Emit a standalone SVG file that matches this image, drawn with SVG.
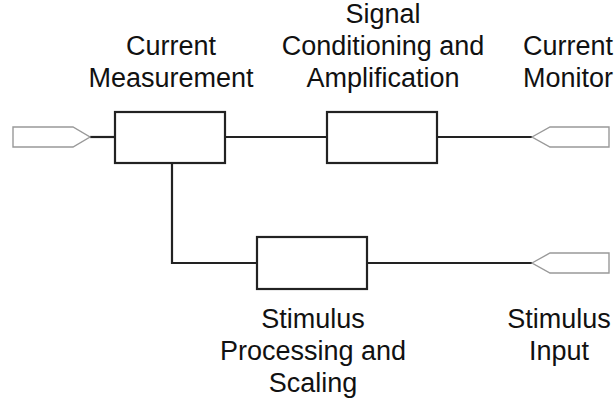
<svg xmlns="http://www.w3.org/2000/svg" width="616" height="404" viewBox="0 0 616 404">
<style>
.box{fill:#fff;stroke:#222;stroke-width:2.2}
.port{fill:#fff;stroke:#999;stroke-width:1.4}
.wire{fill:none;stroke:#222;stroke-width:2.2}
text{font-family:"Liberation Sans",Arial,sans-serif;font-size:27px;fill:#111;text-anchor:middle}
</style>
<rect width="616" height="404" fill="#fff"/>
<g id="connectors">
<line class="wire" x1="90" y1="137" x2="115" y2="137"/>
<line class="wire" x1="225" y1="137" x2="327" y2="137"/>
<line class="wire" x1="437" y1="137" x2="532" y2="137"/>
<polyline class="wire" points="172,163 172,263 257,263"/>
<line class="wire" x1="367" y1="263" x2="532" y2="263"/>
</g>
<g id="port-in">
<polygon class="port" points="13,127 73,127 90,137 73,147 13,147"/>
</g>
<g id="current-measurement">
<rect class="box" x="115" y="112" width="110" height="51"/>
<text x="171" y="55">Current</text>
<text x="171" y="87">Measurement</text>
</g>
<g id="signal-conditioning">
<rect class="box" x="327" y="112" width="110" height="51"/>
<text x="383" y="23">Signal</text>
<text x="383" y="55">Conditioning and</text>
<text x="383" y="87">Amplification</text>
</g>
<g id="current-monitor">
<polygon class="port" points="532,137 550,127 609,127 609,147 550,147"/>
<text x="568" y="55">Current</text>
<text x="568" y="87">Monitor</text>
</g>
<g id="stimulus-processing">
<rect class="box" x="257" y="237" width="110" height="52"/>
<text x="313" y="328">Stimulus</text>
<text x="313" y="360">Processing and</text>
<text x="313" y="392">Scaling</text>
</g>
<g id="stimulus-input">
<polygon class="port" points="532,263 550,253 609,253 609,273 550,273"/>
<text x="559" y="328">Stimulus</text>
<text x="559" y="360">Input</text>
</g>
</svg>
